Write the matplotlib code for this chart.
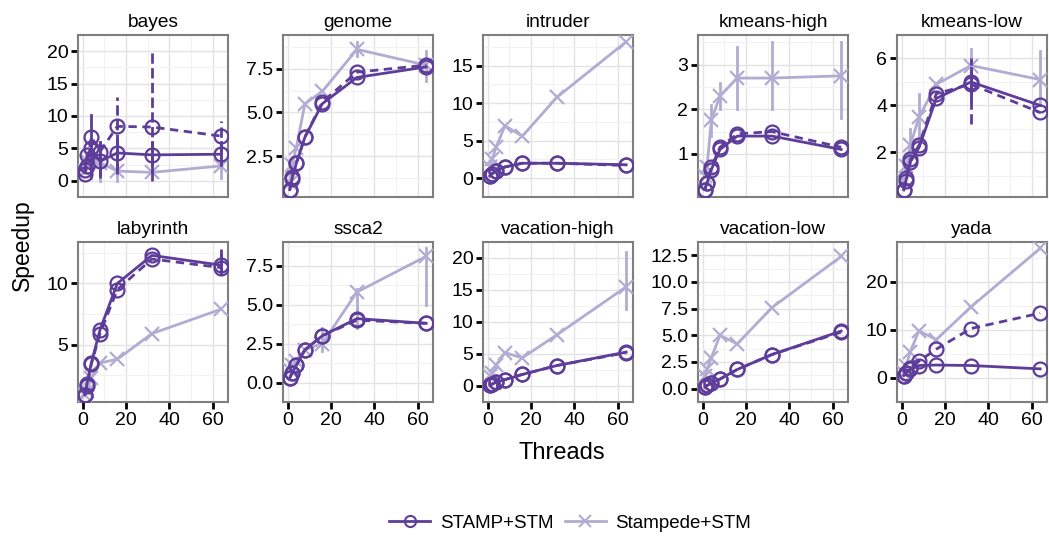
import matplotlib
matplotlib.use("Agg")
import matplotlib.pyplot as plt
from matplotlib.lines import Line2D

plt.rcParams["font.family"] = ["Liberation Sans", "DejaVu Sans"]

DARK = "#5e3c99"
LIGHT = "#b2abd2"

threads = [1, 2, 4, 8, 16, 32, 64]
benchmarks = ["bayes", "genome", "intruder", "kmeans-high", "kmeans-low",
              "labyrinth", "ssca2", "vacation-high", "vacation-low", "yada"]

# STAMP+STM, solid line
stamp = {
    "bayes": [1.7, 4.0, 5.0, 3.0, 4.3, 4.0, 4.1],
    "genome": [0.6, 1.2, 2.1, 3.6, 5.5, 7.0, 7.6],
    "intruder": [0.3, 0.6, 1.0, 1.5, 2.0, 2.0, 1.8],
    "kmeans-high": [0.2, 0.35, 0.65, 1.1, 1.4, 1.4, 1.1],
    "kmeans-low": [0.4, 0.8, 1.6, 2.2, 4.3, 5.0, 4.0],
    "labyrinth": [0.9, 1.8, 3.5, 6.2, 10.0, 12.3, 11.5],
    "ssca2": [0.3, 0.6, 1.1, 2.1, 3.0, 4.1, 3.8],
    "vacation-high": [0.1, 0.3, 0.6, 1.0, 1.8, 3.2, 5.3],
    "vacation-low": [0.15, 0.3, 0.5, 0.9, 1.8, 3.2, 5.4],
    "yada": [0.5, 1.0, 1.8, 2.6, 2.7, 2.6, 1.9],
}

# STAMP+STM, dashed line
stamp_dashed = {
    "bayes": [1.0, 2.3, 6.8, 4.5, 8.4, 8.3, 6.9],
    "genome": [0.6, 1.3, 2.1, 3.6, 5.6, 7.3, 7.7],
    "intruder": [0.3, 0.6, 1.0, 1.5, 2.0, 2.0, 1.7],
    "kmeans-high": [0.2, 0.35, 0.7, 1.15, 1.45, 1.5, 1.15],
    "kmeans-low": [0.4, 0.9, 1.7, 2.3, 4.5, 4.9, 3.7],
    "labyrinth": [0.9, 1.6, 3.4, 5.9, 9.5, 12.0, 11.3],
    "ssca2": [0.3, 0.6, 1.1, 2.1, 3.0, 4.0, 3.8],
    "vacation-high": [0.1, 0.3, 0.6, 1.0, 1.8, 3.2, 5.2],
    "vacation-low": [0.15, 0.3, 0.5, 0.9, 1.8, 3.2, 5.3],
    "yada": [0.5, 1.0, 2.0, 3.5, 6.0, 10.3, 13.5],
}

# Stampede+STM
stampede = {
    "bayes": [1.5, 3.0, 3.5, 2.8, 1.5, 1.3, 2.3],
    "genome": [1.0, 2.0, 3.0, 5.5, 6.2, 8.6, 7.7],
    "intruder": [1.5, 2.5, 4.2, 7.0, 5.6, 10.8, 18.2],
    "kmeans-high": [0.5, 0.7, 1.75, 2.3, 2.7, 2.7, 2.75],
    "kmeans-low": [0.8, 1.4, 2.3, 3.5, 4.9, 5.7, 5.1],
    "labyrinth": [0.9, 1.2, 2.3, 3.5, 3.8, 5.9, 7.9],
    "ssca2": [0.8, 1.1, 1.4, 2.1, 2.5, 5.8, 8.1],
    "vacation-high": [1.5, 2.0, 3.3, 5.2, 4.4, 8.0, 15.5],
    "vacation-low": [1.2, 1.8, 2.9, 5.0, 4.2, 7.6, 12.4],
    "yada": [1.0, 2.5, 5.5, 9.8, 8.0, 14.8, 27.0],
}

# error bars (low, high) by thread index, only where visible
stamp_err = {
    "bayes": {2: (1.5, 10.2), 3: (1.0, 6.0), 4: (2.0, 6.5), 5: (1.5, 6.0), 6: (2.5, 6.0)},
    "kmeans-low": {5: (4.2, 5.6)},
    "labyrinth": {6: (10.8, 12.3)},
}
dashed_err = {
    "bayes": {3: (0.5, 6.0), 4: (1.0, 13.0), 5: (0.0, 20.0), 6: (4.5, 9.2)},
    "kmeans-low": {5: (3.2, 6.0)},
    "labyrinth": {6: (11.0, 12.8)},
}
stampede_err = {
    "bayes": {2: (0.5, 6.5), 3: (0.0, 5.0), 4: (0.0, 3.5), 6: (0.5, 3.5)},
    "genome": {5: (8.2, 9.0), 6: (6.8, 8.5)},
    "kmeans-high": {2: (1.4, 2.1), 3: (2.0, 2.6), 4: (2.0, 3.4), 5: (2.0, 3.5), 6: (1.8, 3.5)},
    "kmeans-low": {2: (1.5, 3.0), 3: (2.5, 4.5), 5: (4.2, 6.4), 6: (4.0, 6.3)},
    "ssca2": {4: (2.0, 3.5), 5: (3.5, 6.0), 6: (5.0, 8.6)},
    "vacation-high": {6: (12.0, 21.0)},
}

yticks = {
    "bayes": [0, 5, 10, 15, 20],
    "genome": [2.5, 5.0, 7.5],
    "intruder": [0, 5, 10, 15],
    "kmeans-high": [1, 2, 3],
    "kmeans-low": [2, 4, 6],
    "labyrinth": [5, 10],
    "ssca2": [0.0, 2.5, 5.0, 7.5],
    "vacation-high": [0, 5, 10, 15, 20],
    "vacation-low": [0.0, 2.5, 5.0, 7.5, 10.0, 12.5],
    "yada": [0, 10, 20],
}
ytick_fmt = {
    "genome": "{:.1f}", "ssca2": "{:.1f}", "vacation-low": "{:.1f}",
}

W, H = 1049, 536
fig = plt.figure(figsize=(W / 100, H / 100), dpi=100)

lefts = [78, 283, 483, 698, 897]
rows = [(35, 197), (242, 402)]
pw = 150


def draw_series(ax, y, err, color, marker, ls):
    ax.plot(threads, y, color=color, lw=2, ls=ls, marker=marker,
            ms=10, mfc="none", mew=1.6, zorder=3,
            dashes=(3, 2) if ls == "--" else ())
    for i, (lo, hi) in err.items():
        ax.plot([threads[i], threads[i]], [lo, hi], color=color, lw=2,
                ls=ls, zorder=3)


for k, name in enumerate(benchmarks):
    r, c = divmod(k, 5)
    top, bot = rows[r]
    ax = fig.add_axes([lefts[c] / W, 1 - bot / H, pw / W, (bot - top) / H])

    # ggplot-like y range: data + error bars, 5% expansion
    vals = stamp[name] + stamp_dashed[name] + stampede[name]
    for e in (stamp_err, dashed_err, stampede_err):
        for lo, hi in e.get(name, {}).values():
            vals += [lo, hi]
    lo, hi = min(vals), max(vals)
    pad = (hi - lo) * 0.05
    ax.set_ylim(lo - pad, hi + pad)
    ax.set_xlim(1 - 63 * 0.05, 64 + 63 * 0.05)

    draw_series(ax, stampede[name], stampede_err.get(name, {}), LIGHT, "x", "-")
    draw_series(ax, stamp_dashed[name], dashed_err.get(name, {}), DARK, "o", "--")
    draw_series(ax, stamp[name], stamp_err.get(name, {}), DARK, "o", "-")

    yt = yticks[name]
    ax.set_yticks(yt)
    fmt = ytick_fmt.get(name, "{:g}")
    ax.set_yticklabels([fmt.format(v) for v in yt])
    step = yt[1] - yt[0]
    ax.set_yticks([v + step / 2 for v in [yt[0] - step] + yt], minor=True)
    ax.set_xticks([0, 20, 40, 60])
    ax.set_xticks([10, 30, 50], minor=True)
    if r == 0:
        ax.tick_params(axis="x", which="major", length=0, labelbottom=False)
    else:
        ax.tick_params(axis="x", which="major", length=5, width=2,
                       labelsize=14, pad=2)
    ax.tick_params(axis="y", which="major", length=5, width=2,
                   labelsize=14, pad=2)
    ax.tick_params(which="minor", length=0)
    ax.grid(True, which="major", color="#e3e3e3", lw=1)
    ax.grid(True, which="minor", color="#f2f2f2", lw=0.8)
    ax.set_axisbelow(True)
    for s in ax.spines.values():
        s.set_color("#7f7f7f")
        s.set_linewidth(1.5)
    ax.set_title(name, fontsize=13.8, pad=6)

fig.text(22 / W, 1 - 245 / H, "Speedup", rotation=90, ha="center",
         va="center", fontsize=16.5)
fig.text(562 / W, 1 - 453 / H, "Threads", ha="center", va="center",
         fontsize=17)

handles = [
    Line2D([], [], color=DARK, lw=2, marker="o", ms=8, mfc="none", mew=1.5),
    Line2D([], [], color=LIGHT, lw=2, marker="x", ms=8, mew=1.5),
]
fig.legend(handles, ["STAMP+STM", "Stampede+STM"], loc="center",
           bbox_to_anchor=(570 / W, 1 - 523 / H), ncol=2, frameon=False,
           fontsize=13.5, handlelength=2.2, columnspacing=0.6,
           handletextpad=0.5)

fig.savefig("out.png", dpi=100)
